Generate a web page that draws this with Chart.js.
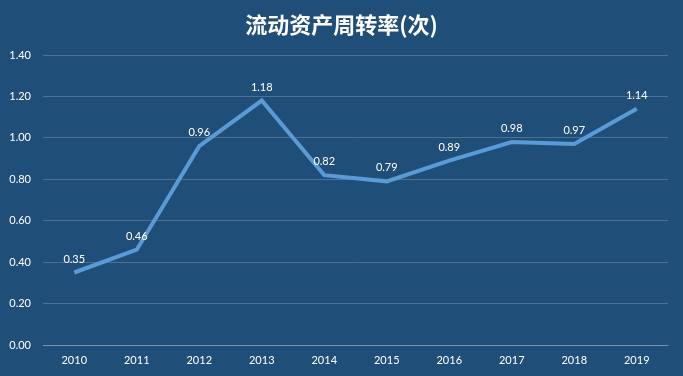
<!DOCTYPE html>
<html>
<head>
<meta charset="utf-8">
<script src="https://cdn.jsdelivr.net/npm/chart.js@4/dist/chart.umd.min.js"></script>
<style>
  html, body { margin: 0; padding: 0; background: #1f4e79; }
  #wrap { width: 683px; height: 376px; }
</style>
</head>
<body>
<div id="wrap"><canvas id="chart"></canvas></div>
<script>
'use strict';

// 年份
const years = ['2010', '2011', '2012', '2013', '2014', '2015', '2016', '2017', '2018', '2019'];
// 流动资产周转率(次)
const turnover = [0.35, 0.46, 0.96, 1.18, 0.82, 0.79, 0.89, 0.98, 0.97, 1.14];
const chartTitle = '流动资产周转率(次)';

const textColor = '#ffffff';
const fontFamily = 'Lato, "Noto Sans", sans-serif';

// Titel mittig über der ganzen Fläche
const centerTitle = {
  id: 'centerTitle',
  afterDraw(chart) {
    const ctx = chart.ctx;
    ctx.save();
    ctx.font = 'bold 22px "Noto Sans CJK SC", sans-serif';
    ctx.fillStyle = textColor;
    ctx.textAlign = 'center';
    ctx.textBaseline = 'middle';
    ctx.fillText(chartTitle, chart.width / 2, 25);
    ctx.restore();
  }
};

// Datenlabels über den Punkten
const pointLabels = {
  id: 'pointLabels',
  afterDatasetsDraw(chart) {
    const ctx = chart.ctx;
    const meta = chart.getDatasetMeta(0);
    ctx.save();
    ctx.font = '11px ' + fontFamily;
    ctx.fillStyle = textColor;
    ctx.textAlign = 'center';
    ctx.textBaseline = 'bottom';
    meta.data.forEach((pt, i) => {
      ctx.fillText(turnover[i].toFixed(2), pt.x, pt.y - 8);
    });
    ctx.restore();
  }
};

new Chart(document.getElementById('chart').getContext('2d'), {
  type: 'line',
  data: {
    labels: years,
    datasets: [{
      data: turnover,
      borderColor: '#5b9bd5',
      borderWidth: 4,
      pointRadius: 0,
      tension: 0,
      fill: false
    }]
  },
  options: {
    responsive: true,
    maintainAspectRatio: false,
    animation: false,
    layout: { padding: { left: 0, right: 15, top: 55, bottom: 0 } },
    plugins: {
      legend: { display: false },
      tooltip: { enabled: false },
      title: { display: false }
    },
    scales: {
      x: {
        offset: true,
        grid: { display: false, drawTicks: false },
        border: { color: 'rgba(255,255,255,0.25)', width: 1 },
        ticks: { color: textColor, font: { family: fontFamily, size: 11 }, padding: 9 },
        afterFit(scale) { scale.height = 31; }
      },
      y: {
        min: 0,
        max: 1.4,
        grid: { color: 'rgba(255,255,255,0.2)', drawTicks: false },
        border: { display: false },
        ticks: {
          stepSize: 0.2,
          color: textColor,
          font: { family: fontFamily, size: 11 },
          padding: 12,
          callback: v => v.toFixed(2)
        },
        afterFit(scale) { scale.width = 43; }
      }
    }
  },
  plugins: [pointLabels, centerTitle]
});
</script>
</body>
</html>
